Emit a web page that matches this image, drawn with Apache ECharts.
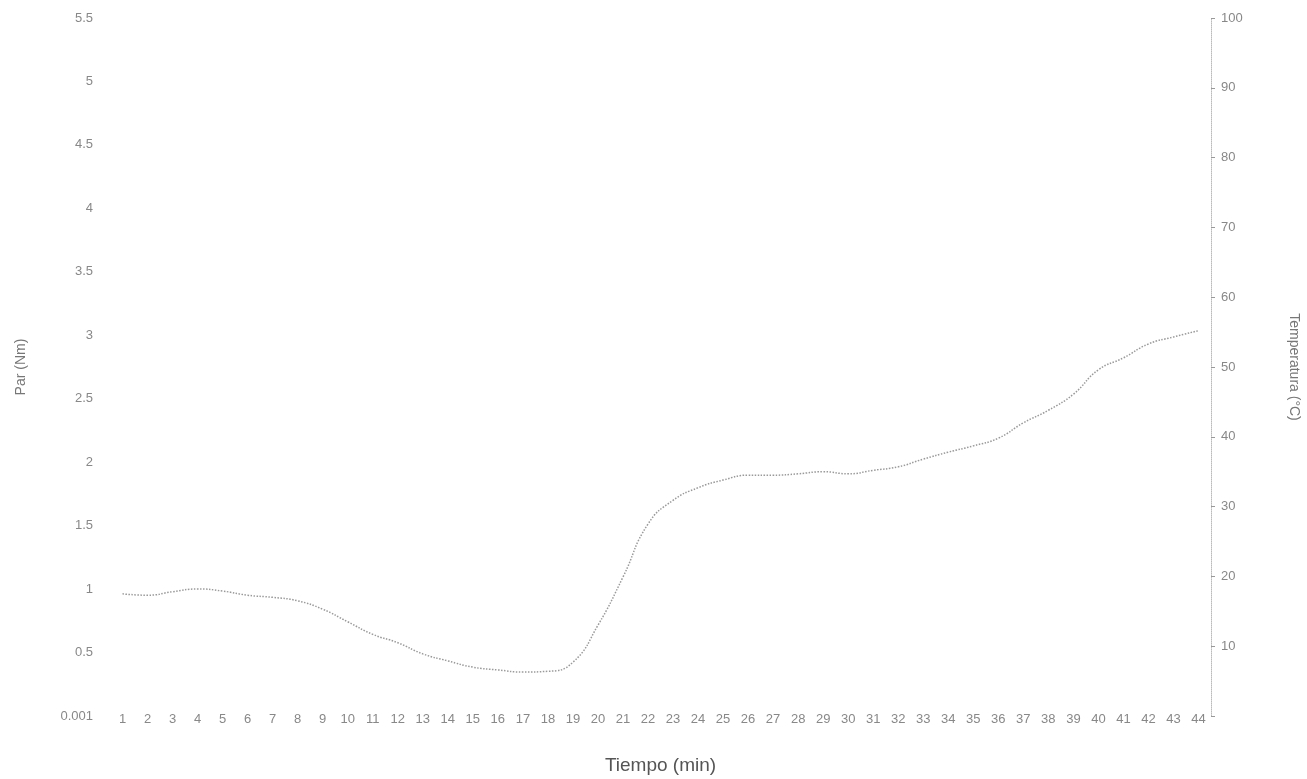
<!DOCTYPE html>
<html>
<head>
<meta charset="utf-8">
<title>Temperatura vs Tiempo</title>
<script src="https://cdn.jsdelivr.net/npm/echarts@6/dist/echarts.min.js"></script>
<style>
  html, body { margin: 0; padding: 0; background: #fff; }
  #chart { width: 1307px; height: 779px; }
</style>
</head>
<body>
<div id="chart"></div>
<script>
// minutes 1..44
var minutos = []
for (var i = 1; i <= 44; i++) minutos.push(String(i))

// temperature (°C)
var temperatura = [
  17.5, 17.3, 17.8, 18.2, 17.9, 17.3, 17.0, 16.5, 15.3, 13.5,
  11.7, 10.5, 8.9, 7.9, 7.0, 6.6, 6.3, 6.4, 7.7, 13.0,
  19.9, 27.5, 30.9, 32.7, 33.8, 34.5, 34.5, 34.7, 35.0, 34.7,
  35.2, 35.7, 36.8, 37.8, 38.7, 39.8, 42.0, 43.8, 46.1, 49.6,
  51.3, 53.3, 54.3, 55.2
]

var chart = echarts.init(document.getElementById('chart'))
chart.setOption({
  animation: false,
  backgroundColor: '#fff',
  textStyle: { fontFamily: 'Liberation Sans, Arial, sans-serif' },
  grid: {
    top: 18,
    left: 110,
    right: 96,
    bottom: 63,
    outerBoundsMode: 'none'
  },
  xAxis: {
    type: 'category',
    data: minutos,
    boundaryGap: true,
    name: 'Tiempo (min)',
    nameLocation: 'middle',
    nameGap: 40,
    nameTextStyle: { fontSize: 19, color: '#555' },
    axisLine: { show: false },
    axisTick: { show: false },
    axisLabel: { interval: 0, margin: -3, fontSize: 13, color: '#888' }
  },
  yAxis: [
    {
      type: 'value',
      min: 0,
      max: 5.5,
      interval: 0.5,
      name: 'Par (Nm)',
      nameLocation: 'middle',
      nameGap: 82,
      nameTextStyle: { fontSize: 14, color: '#777' },
      axisLine: { show: false },
      axisTick: { show: false },
      splitLine: { show: false },
      axisLabel: {
        margin: 17,
        fontSize: 13,
        color: '#888',
        formatter: function (v) { return v === 0 ? '0.001' : String(v) }
      }
    },
    {
      type: 'value',
      min: 0,
      max: 100,
      interval: 10,
      position: 'right',
      name: 'Temperatura (°C)',
      nameLocation: 'middle',
      nameRotate: -90,
      nameGap: 76,
      nameTextStyle: { fontSize: 14, color: '#777' },
      axisLine: { show: true, lineStyle: { color: '#bbb', type: 'dotted' } },
      axisTick: { show: true, length: 4, lineStyle: { color: '#999' } },
      splitLine: { show: false },
      axisLabel: {
        margin: 10,
        fontSize: 13,
        color: '#888',
        formatter: function (v) { return v === 0 ? '' : String(v) }
      }
    }
  ],
  series: [
    {
      name: 'Temperatura',
      type: 'line',
      yAxisIndex: 1,
      data: temperatura,
      smooth: true,
      showSymbol: false,
      lineStyle: { color: '#9a9a9a', width: 1.5, type: 'dotted' }
    }
  ]
})
</script>
</body>
</html>
